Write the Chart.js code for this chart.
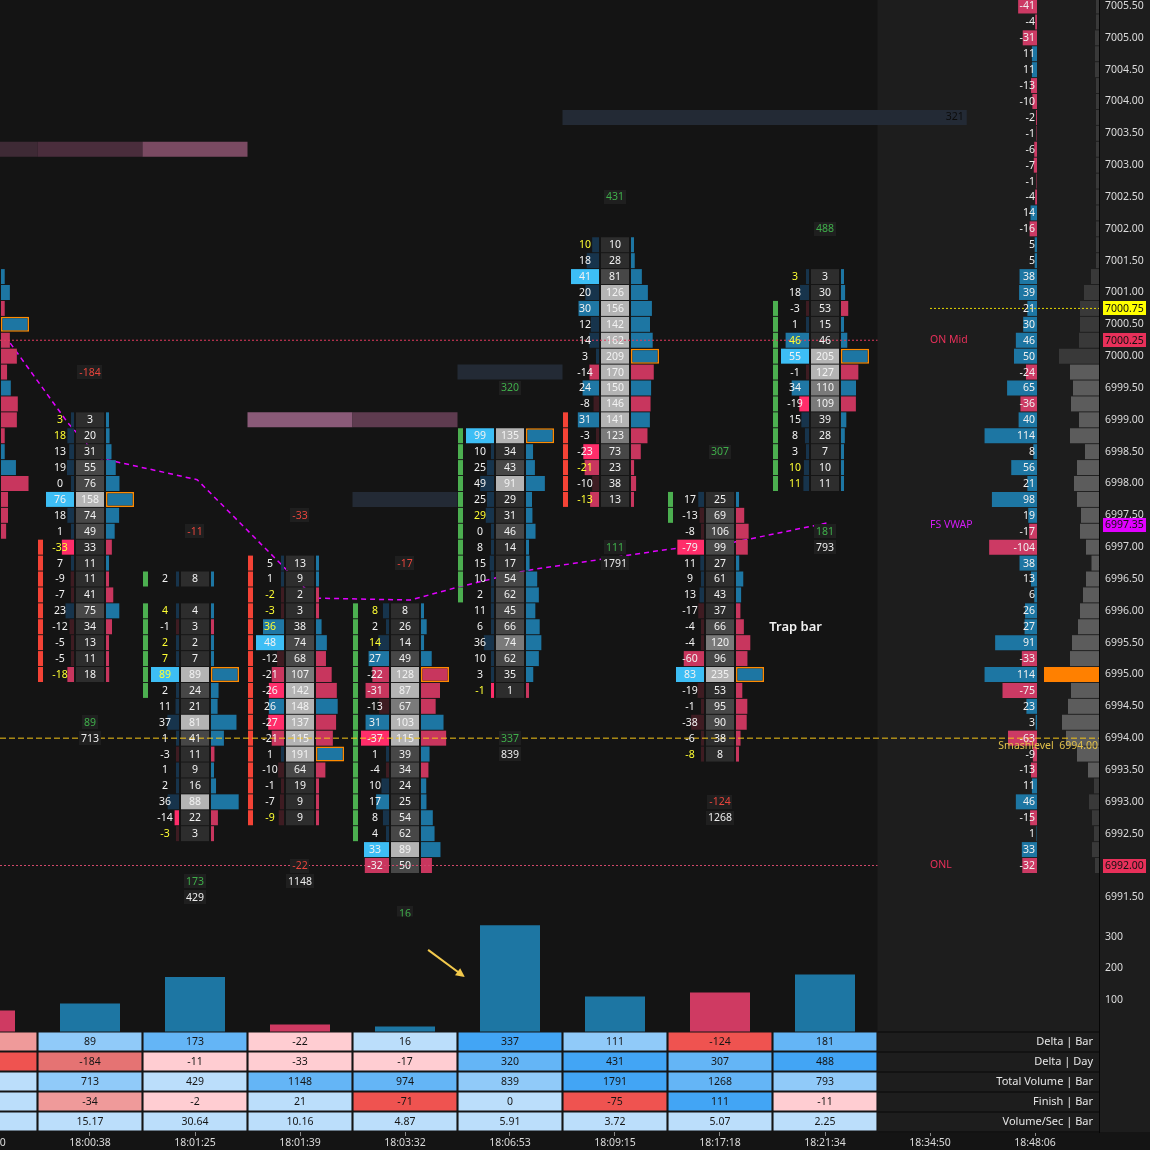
<!DOCTYPE html>
<html>
<head>
<meta charset="utf-8">
<title>footprint</title>
<script src="https://cdn.jsdelivr.net/npm/chart.js"></script>
<style>
  html, body { margin:0; padding:0; background:#141414; overflow:hidden; }
  canvas { display:block; }
</style>
</head>
<body>
<canvas id="chart_one" width="1150" height="1150"></canvas>
<script>

// bar slots on the time axis (slot -1 is the bar cut off at the left edge)
var bar_slots = [-1, 0, 1, 2, 3, 4, 5, 6, 7, 8, 9];
var bar_times = ['17:59:40', '18:00:38', '18:01:25', '18:01:39', '18:03:32', '18:06:53',
                 '18:09:15', '18:17:18', '18:21:34', '18:34:50', '18:48:06'];

// footprint bars: top price of each bar, then delta / volume per 0.25 row going down
var fp_slot = [-1, 0, 1, 2, 3, 4, 5, 6, 7];
var fp_top  = [7001.25, 6999.00, 6996.50, 6996.75, 6996.00, 6998.75, 7001.75, 6997.75, 7001.25];
var fp_delta = [
  [3, 6, -3, 10, -6, -12, -5, 5, -14, -12, -3, 2, 8, -20, -9, -9, -8],
  [3, 18, 13, 19, 0, 76, 18, 1, -33, 7, -9, -7, 23, -12, -5, -5, -18],
  [2, null, 4, -1, 2, 7, 89, 2, 11, 37, 1, -3, 1, 2, 36, -14, -3],
  [5, 1, -2, -3, 36, 48, -12, -21, -26, 26, -27, -21, 1, -10, -1, -7, -9],
  [8, 2, 14, 27, -22, -31, -13, 31, -37, 1, -4, 10, 17, 8, 4, 33, -32],
  [99, 10, 25, 49, 25, 29, 0, 8, 15, 10, 2, 11, 6, 36, 10, 3, -1],
  [10, 18, 41, 20, 30, 12, 14, 3, -14, 24, -8, 31, -3, -23, -21, -10, -13],
  [17, -13, -8, -79, 11, 9, 13, -17, -4, -4, -60, 83, -19, -1, -38, -6, -8],
  [3, 18, -3, 1, 46, 55, -1, 34, -19, 15, 8, 3, 10, 11]
];
var fp_vol = [
  [8, 19, 8, 60, 19, 34, 13, 21, 36, 34, 8, 8, 32, 59, 15, 15, 11],
  [3, 20, 31, 55, 76, 158, 74, 49, 33, 11, 11, 41, 75, 34, 13, 11, 18],
  [8, null, 4, 3, 2, 7, 89, 24, 21, 81, 41, 11, 9, 16, 88, 22, 3],
  [13, 9, 2, 3, 38, 74, 68, 107, 142, 148, 137, 115, 191, 64, 19, 9, 9],
  [8, 26, 14, 49, 128, 87, 67, 103, 115, 39, 34, 24, 25, 54, 62, 89, 50],
  [135, 34, 43, 91, 29, 31, 46, 14, 17, 54, 62, 45, 66, 74, 62, 35, 1],
  [10, 28, 81, 126, 156, 142, 162, 209, 170, 150, 146, 141, 123, 73, 23, 38, 13],
  [25, 69, 106, 99, 27, 61, 43, 37, 66, 120, 96, 235, 53, 95, 90, 38, 8],
  [3, 30, 53, 15, 46, 205, 127, 110, 109, 39, 28, 7, 10, 11]
];
// candle body of each bar
var body_hi = [7000.50, 6997.00, 6996.50, 6996.75, 6996.00, 6998.75, 6999.00, 6997.75, 7000.75];
var body_lo = [6997.25, 6995.00, 6994.75, 6992.75, 6992.50, 6996.25, 6997.75, 6997.50, 6998.00];
var body_up = [false, false, true, false, true, true, false, true, true];

// stats table under the bars
var table_rows = ['Delta | Bar', 'Delta | Day', 'Total Volume | Bar', 'Finish | Bar', 'Volume/Sec | Bar'];
var delta_bar  = [-67, 89, 173, -22, 16, 337, 111, -124, 181];
var delta_day  = [-273, -184, -11, -33, -17, 320, 431, 307, 488];
var total_vol  = [400, 713, 429, 1148, 974, 839, 1791, 1268, 793];
var finish_bar = [4, -34, -2, 21, -71, 0, -75, 111, -11];
var vol_sec    = [6.80, 15.17, 30.64, 10.16, 4.87, 5.91, 3.72, 5.07, 2.25];

// price axis
var price_ticks = [7005.5, 7005.0, 7004.5, 7004.0, 7003.5, 7003.0, 7002.5, 7002.0, 7001.5, 7001.0,
                   7000.5, 7000.0, 6999.5, 6999.0, 6998.5, 6998.0, 6997.5, 6997.0, 6996.5, 6996.0,
                   6995.5, 6995.0, 6994.5, 6994.0, 6993.5, 6993.0, 6992.5, 6992.0, 6991.5];
var hist_ticks = [100, 200, 300];

// session profile on the right (7005.50 down to 6992.00)
var prof_top = 7005.50;
var prof_delta = [-41, -4, -31, 11, 11, -13, -10, -2, -1, -6, -7, -1, -4, 14, -16, 5, 5,
                  38, 39, 21, 30, 46, 50, -24, 65, -36, 40, 114, 8, 56, 21,
                  98, 19, -17, -104, 38, 13, 6, 26, 27, 91, -33, 114, -75, 23, 3, -63, -9, -13, 11, 46, -15, 1, 33, -32];
var prof_vol = [60, 60, 80, 80, 80, 60, 60, 60, 60, 60, 60, 60, 60, 60, 60, 60, 60,
                160, 300, 380, 380, 400, 800, 580, 520, 560, 400, 580, 280, 440, 500,
                440, 360, 380, 260, 150, 260, 320, 380, 420, 540, 580, 1100, 560, 620, 740, 660, 440, 220,
                100, 200, 140, 100, 140, 80];
var prof_poc = 6995.00, va_hi = 6999.75, va_lo = 6993.50;

// levels
var lvl_on_mid = 7000.25, lvl_onl = 6992.00, lvl_smash = 6994.00, lvl_fs_vwap = 6997.35, lvl_last = 7000.75;
var vwap_x = [-0.81, -0.21, 0.09, 1.02, 2.14, 3.05, 3.50, 4.14, 5.48, 6.14, 7.02];
var vwap_y = [7000.32, 6998.95, 6998.40, 6998.06, 6996.20, 6996.17, 6996.37, 6996.63, 6996.96, 6997.08, 6997.38];

// zones (price, slot span, shade)
var zone_price = [7003.25, 7003.25, 7003.25, 6999.00, 6999.00, 6999.75, 6997.75, 7003.75];
var zone_from  = [-1.5, -0.5, 0.5, 1.5, 2.5, 3.5, 2.5, 4.5];
var zone_to    = [-0.5, 0.5, 1.5, 2.5, 3.5, 4.5, 3.5, 8.35];
var zone_shade = [1, 2, 4, 5, 3, 0, 0, 0];
var zone_label = '321';

var trap_note = ['Trap bar', 6.72, 6995.74];
var arrow_from = [3.22, 259], arrow_to = [3.57, 173];

// ------------------------------------------------------------------
var FONT = '"Noto Sans", "DejaVu Sans", sans-serif';
var F11 = '10.5px ' + FONT;
var BLUE = '#1d76a3', RED = '#c8365e';
var zone_colors = ['#232a35', '#3e2a35', '#4a2d3c', '#5e3b4f', '#7a4a62', '#8a5a78'];
var panel_from = 7.5;
var unit = 105;          // pixels per slot
var row_px = 63.667;     // pixels per 1.0 point

var x_min = -90 / unit, x_max = 1009 / unit;
var y_max = 7005.5 + 6 / row_px, y_min = y_max - 1132 / row_px;

function grey(r){ return r >= 0.6 ? '#b4b4b4' : r >= 0.5 ? '#7a7a7a' : r >= 0.26 ? '#474747' : '#2d2d2d'; }
function dcol(d, pos, neg){
    if (d > 0) { if (d === pos) return '#3dbef5'; return d / pos >= 0.5 ? '#1f77a4' : '#17344c'; }
    if (d < 0) { var r = d / neg; return r >= 0.95 ? '#ff2d6a' : r >= 0.5 ? '#c8365e' : '#3e1c22'; }
    return '#17344c';
}
function table_color(vals, i, colored){
    if (!colored) return '#bbdefb';
    var v = vals[i], r;
    if (v >= 0) {
        var mx = Math.max.apply(null, vals);
        r = mx > 0 ? v / mx : 0;
        return r >= 0.85 ? '#42a5f5' : r >= 0.5 ? '#64b5f6' : r >= 0.25 ? '#90caf9' : '#bbdefb';
    }
    r = v / Math.min.apply(null, vals);
    return r >= 0.85 ? '#ef5350' : r >= 0.6 ? '#e57373' : r >= 0.3 ? '#ef9a9a' : '#ffcdd2';
}

// build the cell marks
var cell_vol = [], c_vol = [], cell_dlt = [], c_dlt = [], cell_vbar = [], c_vbar = [], bw_vbar = [], bc_vbar = [];
var cell_body = [], c_body = [];
fp_top.forEach(function (top, i) {
    var s = fp_slot[i], dl = fp_delta[i], vl = fp_vol[i];
    var vv = vl.filter(function (v) { return v != null; });
    var dd = dl.filter(function (d) { return d != null; });
    var vmax = Math.max.apply(null, vv);
    var pos = Math.max.apply(null, dd.concat([0]));
    var neg = Math.min.apply(null, dd.concat([0]));
    var amax = Math.max(pos, -neg);
    var poc_done = false;
    vl.forEach(function (v, r) {
        if (v == null) return;
        var p = top - 0.25 * r, d = dl[r];
        cell_vol.push({ x: [s - 14 / unit, s + 14 / unit], y: p });
        c_vol.push(grey(v / vmax));
        var w = Math.max(3, Math.abs(d) / amax * 28) / unit;
        cell_dlt.push({ x: [s - 16 / unit - w, s - 16 / unit], y: p });
        c_dlt.push(dcol(d, pos, neg));
        var wv = Math.max(3, v / vmax * 28) / unit;
        cell_vbar.push({ x: [s + 16 / unit, s + 16 / unit + wv], y: p });
        c_vbar.push(d < 0 ? RED : BLUE);
        var is_poc = (v === vmax && !poc_done);
        if (is_poc) poc_done = true;
        bw_vbar.push(is_poc ? 1.5 : 0);
        bc_vbar.push('#ff8a00');
        if (p <= body_hi[i] && p >= body_lo[i]) {
            cell_body.push({ x: [s - 52 / unit, s - 47 / unit], y: p });
            c_body.push(body_up[i] ? '#4caf50' : '#f44336');
        }
    });
});

var hist_data = fp_slot.map(function (s, i) { return { x: s, y: Math.abs(delta_bar[i]) }; });
var hist_cols = delta_bar.map(function (d) { return d < 0 ? '#cf3a62' : BLUE; });

var table_vals = [delta_bar, delta_day, total_vol, finish_bar, vol_sec];
var table_data = [], table_cols = [];
table_vals.forEach(function (vals, r) {
    fp_slot.forEach(function (s, i) {
        table_data.push({ x: [s - 0.49, s + 0.49], y: r });
        table_cols.push(table_color(vals, i, r < 4));
    });
});

var prof_data = [], prof_cols = [], pd_data = [], pd_cols = [];
prof_vol.forEach(function (v, i) {
    var p = prof_top - 0.25 * i;
    prof_data.push({ x: [0, v], y: p });
    prof_cols.push(p === prof_poc ? '#ff8000' : (p <= va_hi && p >= va_lo) ? '#5c5c5c' : '#393939');
    pd_data.push({ x: [0, Math.abs(prof_delta[i])], y: p });
    pd_cols.push(prof_delta[i] < 0 ? '#cc3a64' : BLUE);
});

var zone_data = zone_price.map(function (p, i) { return { x: [zone_from[i], zone_to[i]], y: p }; });
var zone_cols = zone_shade.map(function (k) { return zone_colors[k]; });

function hbar(label, data, colors, yid, xid, thick, order, extra) {
    var ds = {
        type: 'bar', label: label, data: data, indexAxis: 'y', xAxisID: xid, yAxisID: yid,
        backgroundColor: colors, borderWidth: 0, borderSkipped: false, grouped: false,
        barThickness: thick, inflateAmount: 0, order: order
    };
    for (var k in extra) ds[k] = extra[k];
    return ds;
}
function hline(label, p, x0, x1, color, dash, width) {
    return { type: 'line', label: label, data: [{ x: x0, y: p }, { x: x1, y: p }], xAxisID: 'x', yAxisID: 'y',
             borderColor: color, borderDash: dash, borderWidth: width, pointRadius: 0, order: 1 };
}

var datasets = [
    hline('ON Mid', lvl_on_mid, x_min, panel_from, '#e23a5e', [2, 2], 1),
    hline('ONL', lvl_onl, x_min, panel_from, '#d0486a', [2, 2], 1),
    hline('Smashlevel', lvl_smash, x_min, x_max, '#f5c518', [6, 3], 1),
    hline('Last', lvl_last, 8.0, x_max, '#e6d800', [2, 2], 1),
    hbar('delta', cell_dlt, c_dlt, 'y', 'x', 15, 5),
    hbar('volume', cell_vol, c_vol, 'y', 'x', 15, 5),
    hbar('volume bar', cell_vbar, c_vbar, 'y', 'x', 15, 5, { borderWidth: bw_vbar, borderColor: bc_vbar }),
    hbar('body', cell_body, c_body, 'y', 'x', 15, 5),
    {
        type: 'line', label: 'FS VWAP', xAxisID: 'x', yAxisID: 'y',
        data: vwap_x.map(function (x, i) { return { x: x, y: vwap_y[i] }; }),
        borderColor: '#e100ff', borderDash: [5, 4], borderWidth: 1.5, pointRadius: 0, tension: 0, order: 8
    },
    hbar('zones', zone_data, zone_cols, 'y', 'x', 15, 9),
    hbar('profile volume', prof_data, prof_cols, 'y', 'xpv', 15, 6),
    hbar('profile delta', pd_data, pd_cols, 'y', 'xpd', 15, 6),
    hbar('table', table_data, table_cols, 'yt', 'x', 18, 6),
    {
        type: 'bar', label: 'Delta | Bar', data: hist_data, xAxisID: 'x', yAxisID: 'yv',
        backgroundColor: hist_cols, borderWidth: 0, barThickness: 60, grouped: false, inflateAmount: 0, order: 6
    }
];

function txt(ctx, s, x, y, color, align, font) {
    ctx.fillStyle = color;
    ctx.textAlign = align || 'center';
    ctx.textBaseline = 'middle';
    ctx.font = font || F11;
    ctx.fillText(s, x, y);
}
function tag(ctx, s, x, y, color) {
    ctx.font = F11;
    var w = ctx.measureText(s).width + 4;
    ctx.fillStyle = '#1f1f1f';
    ctx.fillRect(Math.round(x - w / 2), Math.round(y - 7), Math.round(w), 14);
    txt(ctx, s, x, y + 0.5, color);
}

var fp_plugin = {
    id: 'fp_plugin',
    beforeDraw: function (chart) {
        var ctx = chart.ctx, a = chart.chartArea, sx = chart.scales.x;
        ctx.save();
        ctx.fillStyle = '#141414';
        ctx.fillRect(0, 0, chart.width, chart.height);
        var pl = sx.getPixelForValue(panel_from);
        ctx.fillStyle = '#1d1d1d';
        ctx.fillRect(pl, a.top, chart.width - pl, a.bottom - a.top);
        ctx.restore();
    },
    afterDatasetsDraw: function (chart) {
        var ctx = chart.ctx, a = chart.chartArea, sc = chart.scales;
        var sx = sc.x, sy = sc.y, yt = sc.yt, xpd = sc.xpd;
        ctx.save();
        // price region
        ctx.beginPath();
        ctx.rect(0, 0, a.right, sy.getPixelForValue(6991.2));
        ctx.clip();
        fp_top.forEach(function (top, i) {
            var s = fp_slot[i], cx = sx.getPixelForValue(s);
            var dl = fp_delta[i], vl = fp_vol[i];
            vl.forEach(function (v, r) {
                if (v == null) return;
                var py = sy.getPixelForValue(top - 0.25 * r) + 0.5, d = dl[r];
                txt(ctx, String(d), cx - 30, py, Math.abs(d) / v >= 0.9 ? '#ffff33' : '#f2f2f2');
                txt(ctx, String(v), cx, py, '#f2f2f2');
            });
            var bottom = top - 0.25 * (vl.length - 1);
            tag(ctx, String(delta_day[i]), cx, sy.getPixelForValue(top + 0.75), delta_day[i] >= 0 ? '#3fae4a' : '#e8453c');
            tag(ctx, String(delta_bar[i]), cx, sy.getPixelForValue(bottom - 0.75), delta_bar[i] >= 0 ? '#3fae4a' : '#e8453c');
            tag(ctx, String(total_vol[i]), cx, sy.getPixelForValue(bottom - 1.0), '#ececec');
        });
        // zone label
        txt(ctx, zone_label, sx.getPixelForValue(zone_to[zone_to.length - 1]) - 3, sy.getPixelForValue(7003.75), '#0c0c0c', 'right');
        // profile deltas
        var x0 = xpd.getPixelForValue(0) - 2;
        prof_delta.forEach(function (d, i) {
            txt(ctx, String(d), x0, sy.getPixelForValue(prof_top - 0.25 * i) + 0.5, '#f0f0f0', 'right');
        });
        // level names in the right panel
        var lx = sx.getPixelForValue(8.0);
        txt(ctx, 'ON Mid', lx, sy.getPixelForValue(lvl_on_mid), '#e8305a', 'left');
        txt(ctx, 'FS VWAP', lx, sy.getPixelForValue(lvl_fs_vwap), '#d21cf5', 'left');
        txt(ctx, 'ONL', lx, sy.getPixelForValue(lvl_onl), '#e8305a', 'left');
        txt(ctx, 'Smashlevel  ' + lvl_smash.toFixed(2), a.right - 1, sy.getPixelForValue(lvl_smash) + 8, '#e2c04a', 'right');
        txt(ctx, trap_note[0], sx.getPixelForValue(trap_note[1]), sy.getPixelForValue(trap_note[2]), '#f2f2f2', 'center', '600 13px ' + FONT);
        ctx.restore();

        // arrow in the delta histogram
        var ax0 = sx.getPixelForValue(arrow_from[0]), ay0 = sc.yv.getPixelForValue(arrow_from[1]);
        var ax1 = sx.getPixelForValue(arrow_to[0]), ay1 = sc.yv.getPixelForValue(arrow_to[1]);
        var ang = Math.atan2(ay1 - ay0, ax1 - ax0);
        ctx.save();
        ctx.strokeStyle = '#f2c94c'; ctx.fillStyle = '#f2c94c'; ctx.lineWidth = 2;
        ctx.beginPath(); ctx.moveTo(ax0, ay0); ctx.lineTo(ax1 - 6 * Math.cos(ang), ay1 - 6 * Math.sin(ang)); ctx.stroke();
        ctx.beginPath();
        ctx.moveTo(ax1, ay1);
        ctx.lineTo(ax1 - 10 * Math.cos(ang - 0.45), ay1 - 10 * Math.sin(ang - 0.45));
        ctx.lineTo(ax1 - 10 * Math.cos(ang + 0.45), ay1 - 10 * Math.sin(ang + 0.45));
        ctx.closePath(); ctx.fill();
        ctx.restore();

        // table text
        ctx.save();
        table_vals.forEach(function (vals, r) {
            var py = yt.getPixelForValue(r) + 0.5;
            vals.forEach(function (v, i) {
                txt(ctx, r === 4 ? v.toFixed(2) : String(v), sx.getPixelForValue(fp_slot[i]), py, '#151515');
            });
            txt(ctx, table_rows[r], a.right - 6, py, '#e6e6e6', 'right', '11px ' + FONT);
        });
        var pl = sx.getPixelForValue(panel_from);
        ctx.strokeStyle = '#121212'; ctx.lineWidth = 2;
        for (var r = 0; r <= table_rows.length; r++) {
            var ly = Math.round(yt.getPixelForValue(r - 0.5));
            ctx.beginPath(); ctx.moveTo(pl, ly); ctx.lineTo(a.right, ly); ctx.stroke();
        }
        ctx.restore();
    },
    afterDraw: function (chart) {
        var ctx = chart.ctx, a = chart.chartArea, sy = chart.scales.y, yv = chart.scales.yv;
        ctx.save();
        hist_ticks.forEach(function (v) {
            txt(ctx, String(v), a.right + 6, yv.getPixelForValue(v), '#dcdcdc', 'left');
        });
        var flags = [[lvl_last, '#ffff00'], [lvl_on_mid, '#e8305a'], [lvl_fs_vwap, '#e100ff'], [lvl_onl, '#e8305a']];
        flags.forEach(function (f) {
            var py = sy.getPixelForValue(f[0]);
            ctx.fillStyle = f[1];
            ctx.fillRect(a.right + 4, Math.round(py - 7), 43, 14);
            txt(ctx, f[0].toFixed(2), a.right + 6, py + 0.5, '#111111', 'left');
        });
        ctx.restore();
    }
};

function no_pad(s) {
    s.paddingLeft = 0; s.paddingRight = 0; s.paddingTop = 0; s.paddingBottom = 0;
}
function hidden_axis(min, max, reverse) {
    return { type: 'linear', display: false, min: min, max: max, reverse: reverse, offset: false,
             beginAtZero: false, grid: { display: false, offset: false } };
}

var chart = new Chart(document.getElementById('chart_one').getContext('2d'), {
    type: 'bar',
    data: { datasets: datasets },
    options: {
        responsive: false,
        animation: false,
        events: [],
        layout: { padding: 0, autoPadding: false },
        plugins: { legend: { display: false }, tooltip: { enabled: false } },
        scales: {
            x: {
                type: 'linear', position: 'bottom', min: x_min, max: x_max, offset: false,
                grid: { display: true, offset: false, drawOnChartArea: false, drawTicks: true, tickLength: 4, color: '#8a8a8a' },
                border: { display: false },
                ticks: {
                    autoSkip: false, maxRotation: 0, color: '#dcdcdc', padding: 1,
                    font: { family: FONT, size: 10.5 },
                    callback: function (v, i) { return bar_times[i]; }
                },
                afterBuildTicks: function (s) { s.ticks = bar_slots.map(function (v) { return { value: v }; }); },
                afterFit: function (s) { s.height = 18; no_pad(s); }
            },
            y: {
                type: 'linear', position: 'right', min: y_min, max: y_max, beginAtZero: false, offset: false,
                grid: { display: false, drawTicks: false, offset: false },
                border: { display: true, color: '#050505', width: 1 },
                ticks: {
                    autoSkip: false, color: '#dcdcdc', padding: 6,
                    font: { family: FONT, size: 10.5 },
                    callback: function (v) { return Number(v).toFixed(2); }
                },
                afterBuildTicks: function (s) { s.ticks = price_ticks.map(function (v) { return { value: v }; }); },
                afterFit: function (s) { s.width = 51; no_pad(s); }
            },
            yv: hidden_axis(-100.5 / 0.315, 1031.5 / 0.315, false),
            yt: hidden_axis(-1041.5 / 20, (1132 - 1041.5) / 20, true),
            xpv: hidden_axis(0, 1099 / 0.05, true),
            xpd: hidden_axis(-62 / 0.46, 1037 / 0.46, true)
        }
    },
    plugins: [fp_plugin]
});
</script>
</body>
</html>
